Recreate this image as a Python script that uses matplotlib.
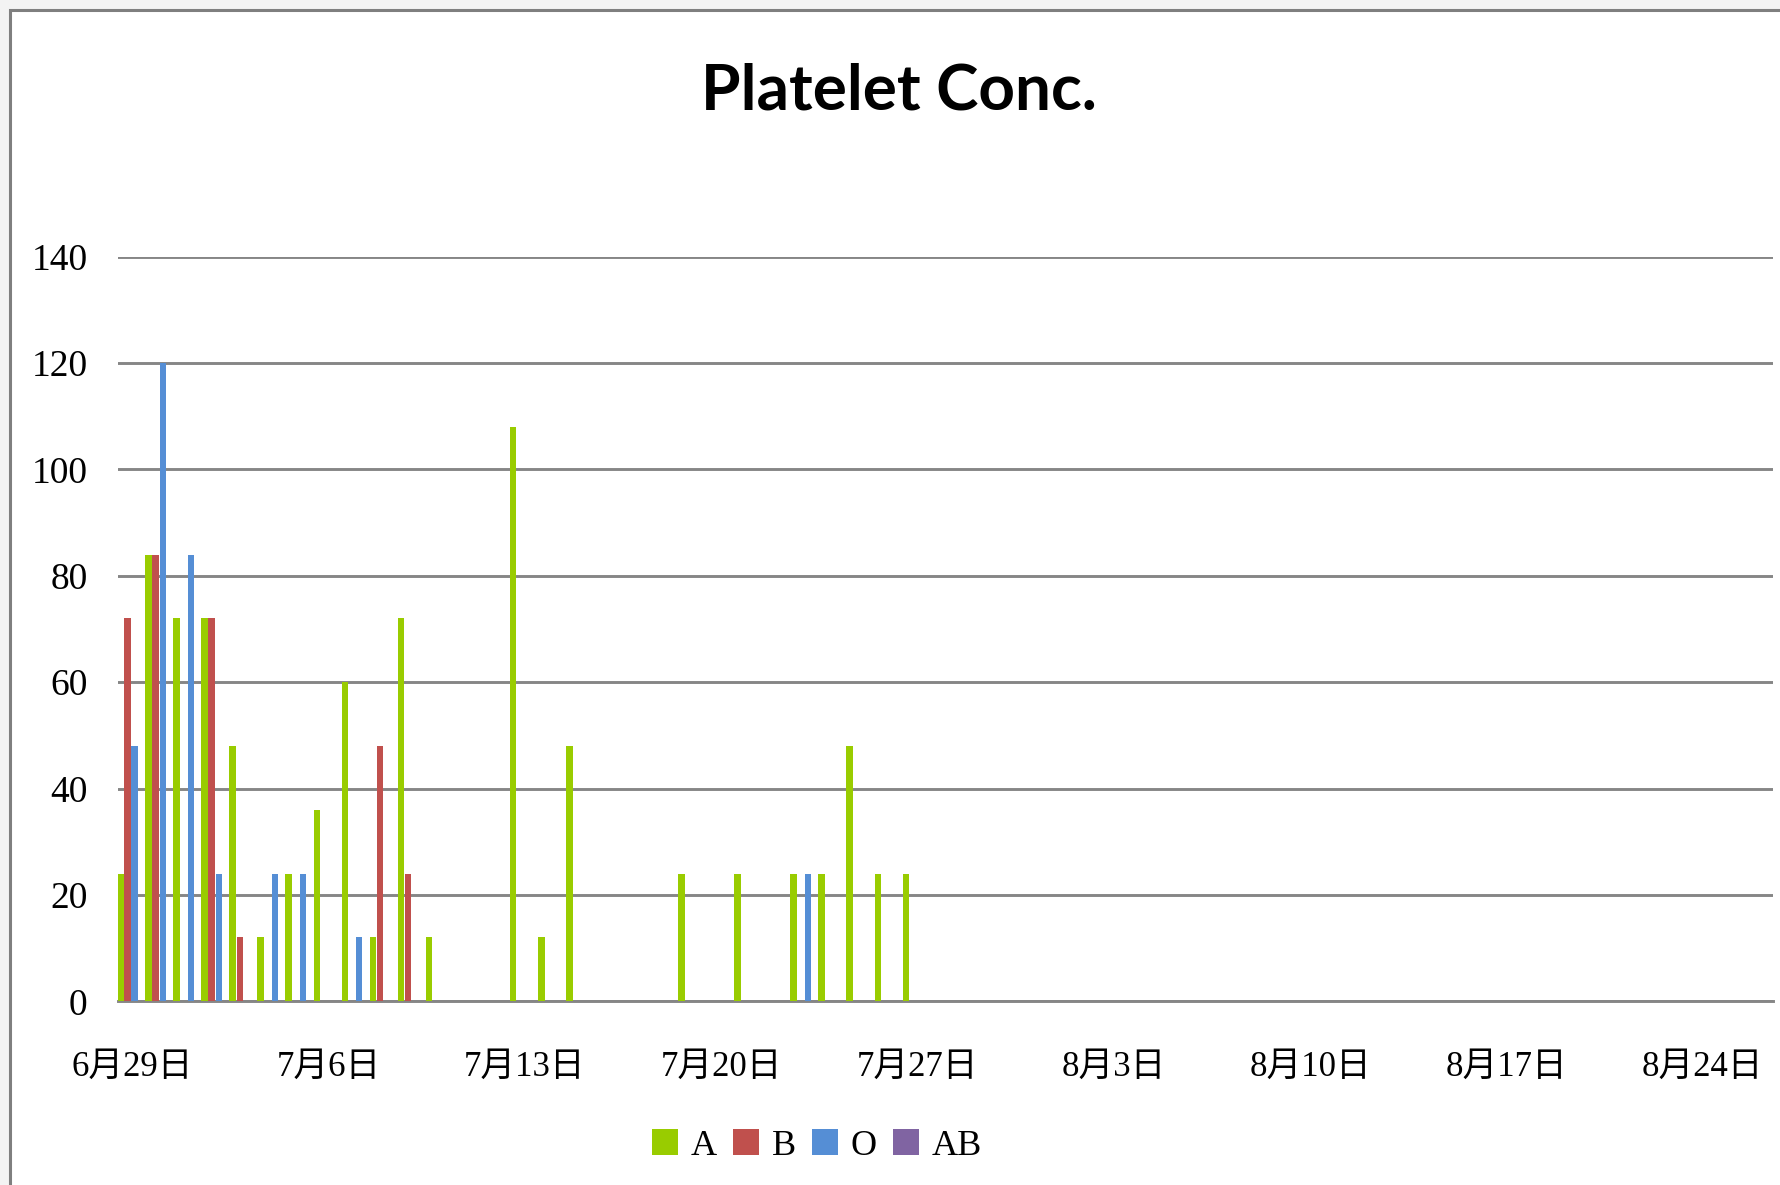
import numpy as np
import pandas as pd
import matplotlib
matplotlib.use("Agg")
import matplotlib.pyplot as plt
import matplotlib.dates as mdates
from matplotlib.patches import Rectangle, Patch

# data (units per day, by blood group)
dates = ['06-29', '06-30', '07-01', '07-02', '07-03', '07-04', '07-05', '07-06',
         '07-07', '07-08', '07-09', '07-10', '07-13', '07-14', '07-15', '07-19',
         '07-21', '07-23', '07-24', '07-25', '07-26', '07-27']
A = [24, 84, 72, 72, 48, 12, 24, 36, 60, 12, 72, 12, 108, 12, 48, 24, 24, 24, 24, 48, 24, 24]
B = [72, 84, 0, 72, 12, 0, 0, 0, 0, 48, 24, 0, 0, 0, 0, 0, 0, 0, 0, 0, 0, 0]
O = [48, 120, 84, 24, 0, 24, 24, 0, 12, 0, 0, 0, 0, 0, 0, 0, 0, 24, 0, 0, 0, 0]
AB = [0] * len(dates)

series = ['A', 'B', 'O', 'AB']
colors = ['#99CC00', '#C0504D', '#558ED5', '#8064A2']

tick_dates = ['06-29', '07-06', '07-13', '07-20', '07-27', '08-03', '08-10', '08-17', '08-24']
tick_labels = ['6月29日', '7月6日', '7月13日', '7月20日', '7月27日',
               '8月3日', '8月10日', '8月17日', '8月24日']
x_start, x_end = '06-29', '08-26'

serif_cjk = ['Liberation Serif', 'Noto Sans CJK TC']

W, H = 1781, 1185
fig = plt.figure(figsize=(W / 100, H / 100), dpi=100)
fig.patch.set_facecolor('#f3f3f3')
fig.patches.append(Rectangle((10 / W, -0.05), 1.1, 1.05 - 10 / H, transform=fig.transFigure,
                             facecolor='white', edgecolor='#7f7f7f', lw=2.2, zorder=-10))

ax = fig.add_axes([118 / W, 1 - 1001.3 / H, (1773 - 118) / W, (1001.3 - 256.7) / H])
ax.set_facecolor('none')
ax.set_zorder(1)

x = mdates.date2num(pd.to_datetime(['2020-' + d for d in dates]))
step = 0.255
bw = 0.235
for i, (name, vals) in enumerate(zip(series, [A, B, O, AB])):
    ax.bar(x + (i - 1.5) * step - 0.03, vals, width=bw, color=colors[i], label=name, zorder=3)

x0 = mdates.date2num(pd.Timestamp('2020-' + x_start))
x1 = mdates.date2num(pd.Timestamp('2020-' + x_end))
ax.set_xlim(x0 - 0.5, x1 + 0.5)
ax.set_ylim(0, 140)
ax.set_yticks(np.arange(0, 141, 20))
ax.yaxis.grid(True, color='#868686', lw=2.1, zorder=1)
ax.set_axisbelow(True)
ax.set_xticks(mdates.date2num(pd.to_datetime(['2020-' + d for d in tick_dates])))
ax.set_xticklabels(tick_labels)

for s in ['top', 'right', 'left']:
    ax.spines[s].set_visible(False)
ax.spines['bottom'].set_color('#868686')
ax.spines['bottom'].set_linewidth(2.1)

ax.tick_params(axis='y', length=0, pad=22)
ax.tick_params(axis='x', length=0, pad=36)
for lab in ax.get_yticklabels():
    lab.set_family(serif_cjk)
    lab.set_fontsize(27)
for lab in ax.get_xticklabels():
    lab.set_family(serif_cjk)
    lab.set_fontsize(25)

fig.text(899 / W, 1 - 91 / H, 'Platelet Conc.', ha='center', va='center',
         fontsize=46, fontweight='bold', family='Lato')

handles = [Patch(facecolor=c, edgecolor='none') for c in colors]
fig.legend(handles, series, loc='center', bbox_to_anchor=(817 / W, 1 - 1146 / H),
           ncol=4, frameon=False, prop={'family': serif_cjk, 'size': 26},
           handlelength=0.72, handleheight=0.72, handletextpad=0.35, columnspacing=0.45)

fig.savefig('out.png', dpi=100)
